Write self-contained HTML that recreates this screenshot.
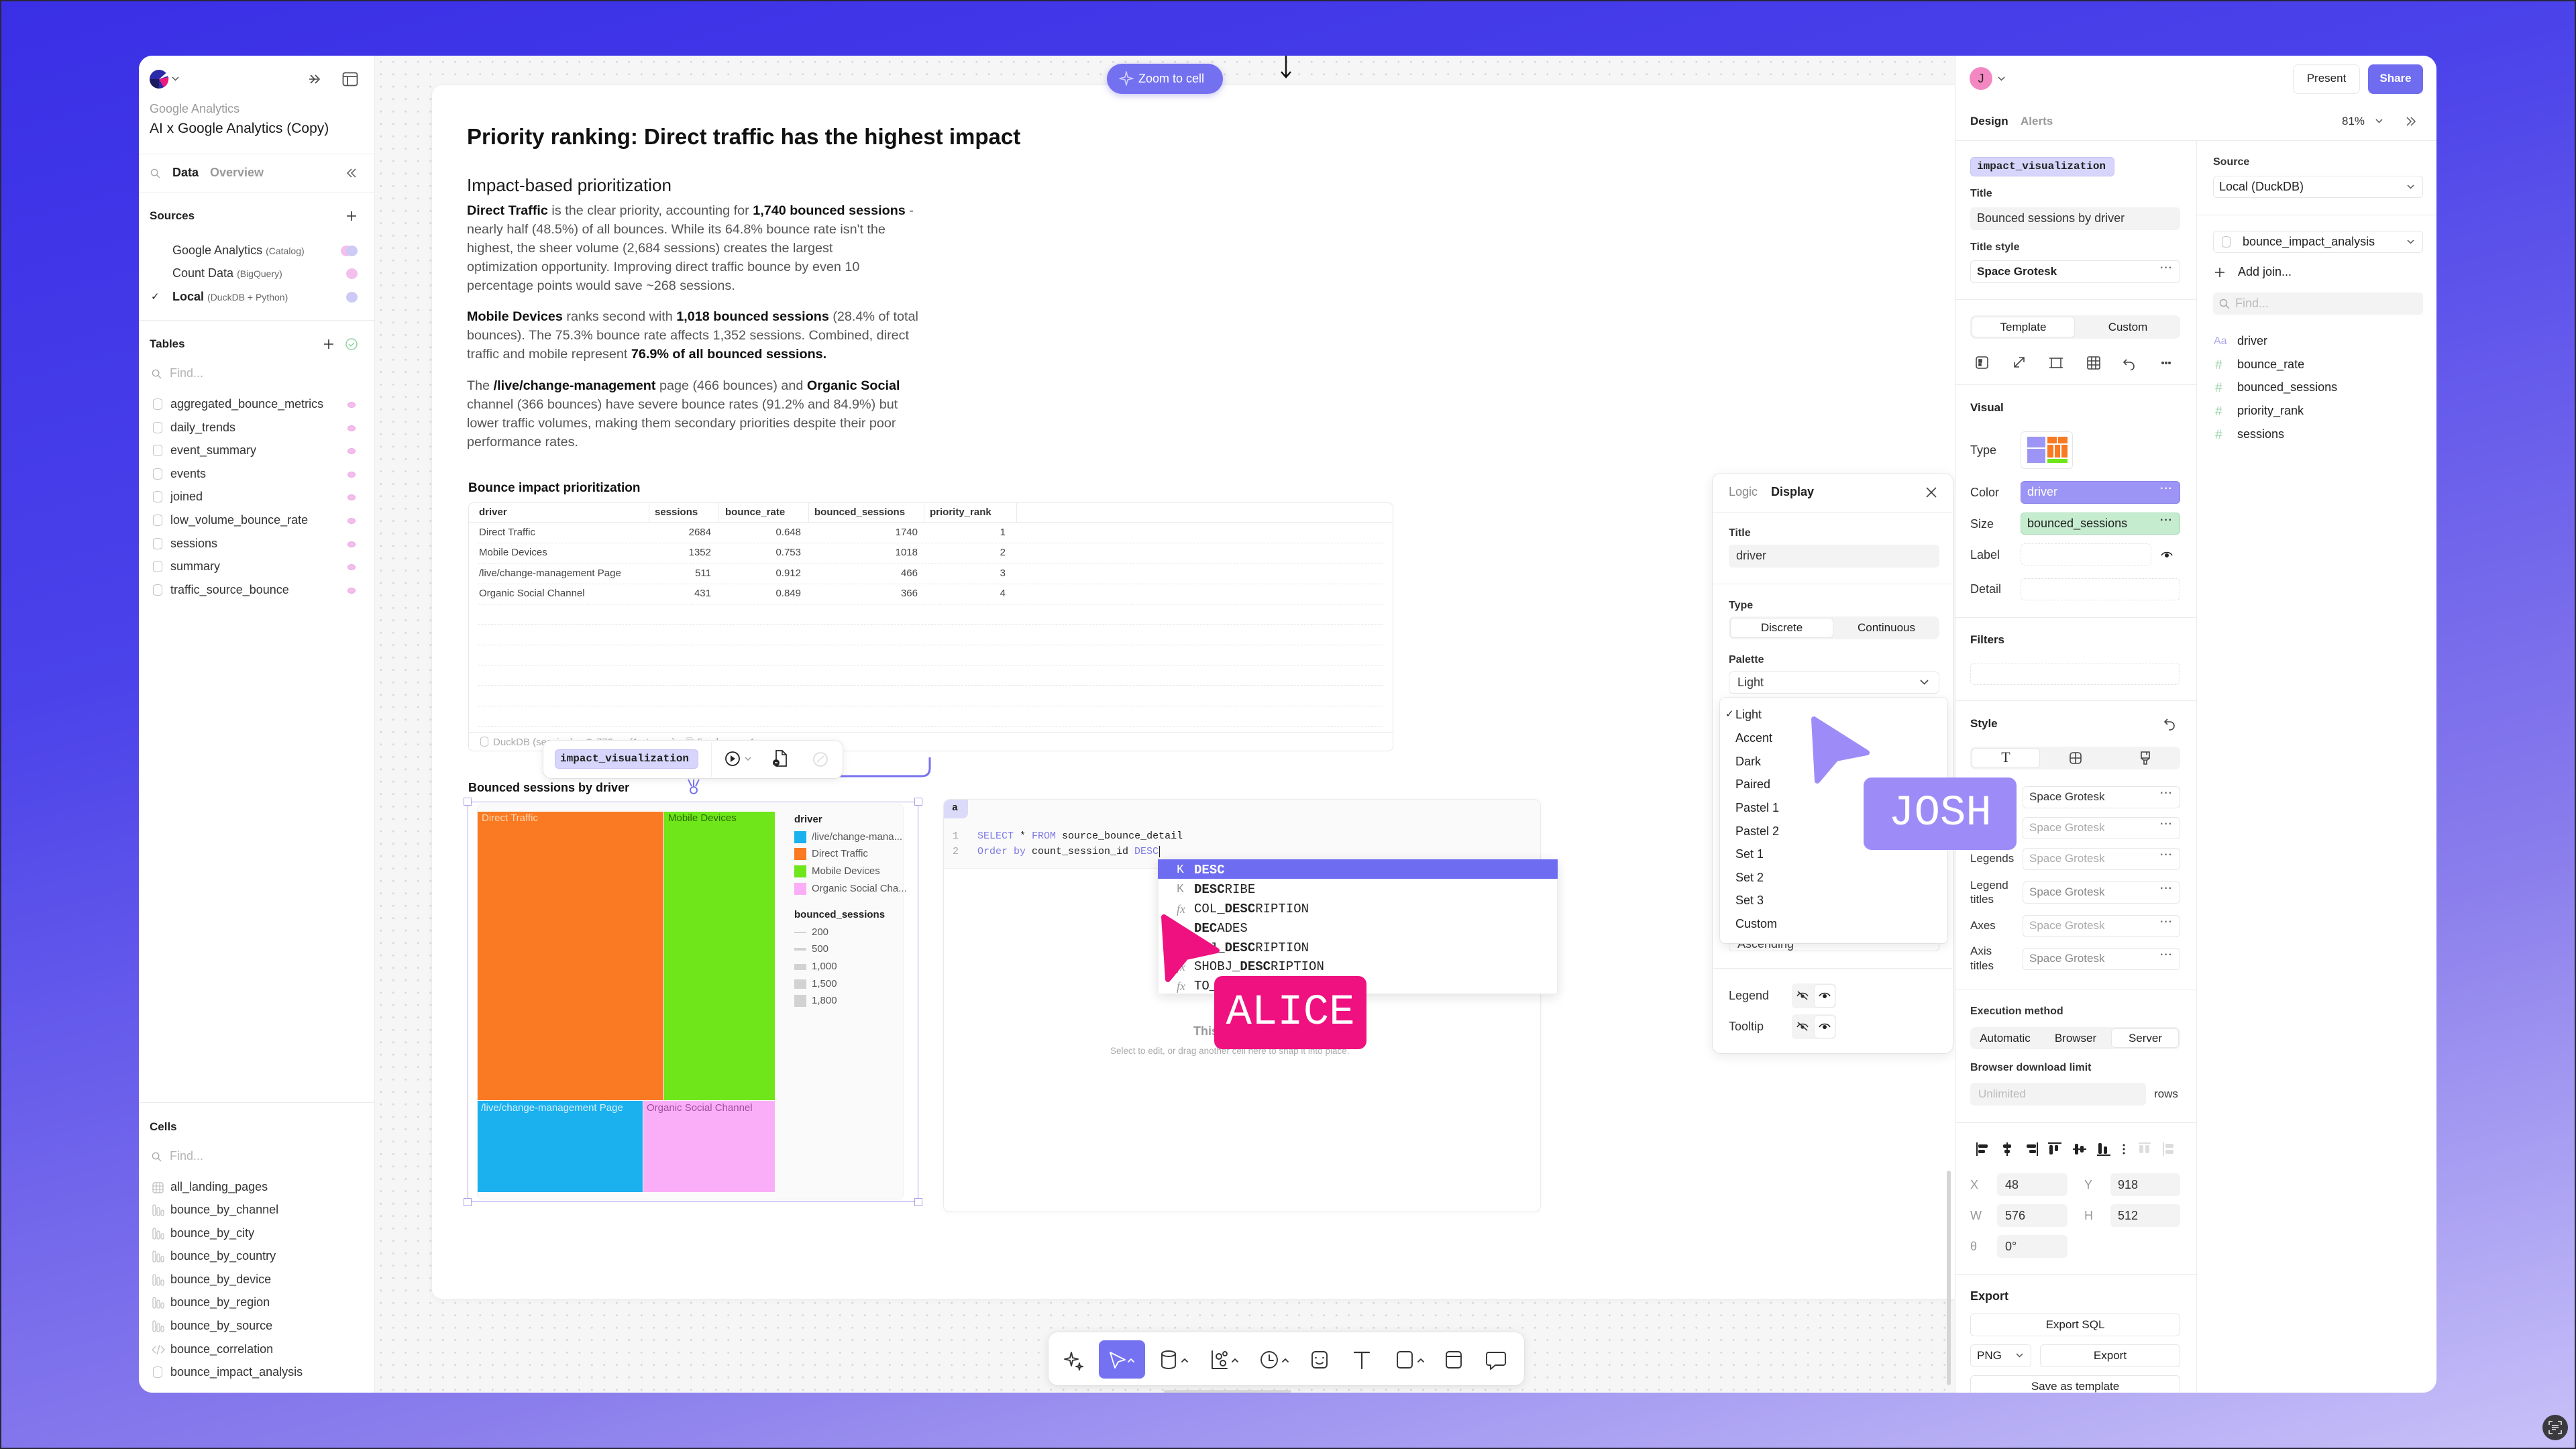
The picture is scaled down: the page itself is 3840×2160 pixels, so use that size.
<!DOCTYPE html>
<html><head><meta charset="utf-8">
<style>
*{box-sizing:border-box;margin:0;padding:0}
html,body{width:3840px;height:2160px;overflow:hidden}
body{position:relative;font-family:"Liberation Sans",sans-serif;color:#222;background:linear-gradient(165deg,#3a2fe6 0%,#4b42ea 33%,#8a7dec 72%,#c8c1f8 100%)}
.a{position:absolute}
.t{position:absolute;white-space:nowrap;line-height:1}
.m{font-family:"Liberation Mono",monospace}
.b{font-weight:700}
.hr{position:absolute;height:1px;background:#ebebeb}
.vr{position:absolute;width:1px;background:#ebebeb}
.p{font-size:19.8px;color:#555}
.p b{color:#111}
.cyl{position:absolute;width:14px;height:17px;border:1.6px solid #c2c2c2;border-radius:6px/3.5px}
.dot{position:absolute;width:12px;height:9px;border-radius:50%;background:#f3bdee;border:1px solid #e9a6e2}
.in{position:absolute;border-radius:6px}
.gi{background:#f3f3f3}
.bi{background:#fff;border:1.5px solid #e6e6e6}
.di{border:1.5px dashed #e3e3e3}
.lbl{font-size:17px;color:#333}
.sec{font-size:17px;font-weight:700;color:#222}
.dd{position:absolute;font-size:16px;font-weight:700;color:#666;letter-spacing:1px}
.ac{position:absolute;left:1726px;width:596px;height:29px}
.ac .k{position:absolute;left:28px;top:6px;font-size:18px;color:#9a9a9a;font-family:"Liberation Mono",monospace}
.ac .w{position:absolute;left:54px;top:5px;font-size:19px;color:#222;font-family:"Liberation Mono",monospace;white-space:nowrap}
.dl{position:absolute;left:712px;width:1350px;height:0;border-top:1px dashed #e4e4e4}
</style></head><body>

<!-- window -->
<div class="a" style="left:207px;top:83px;width:3425px;height:1993px;border-radius:20px;background:#f6f6f6 radial-gradient(circle,#d8d8d8 1.3px,transparent 1.7px) 0 0/18.5px 18.5px;overflow:hidden"></div>

<!-- doc card -->
<div class="a" style="left:644px;top:127px;width:2270px;height:1809px;background:#fff;border-radius:14px 0 0 14px;box-shadow:0 0 0 1px #ececec,0 2px 10px rgba(0,0,0,.04)"></div>

<!-- zoom to cell -->
<div class="a" style="left:1650px;top:95px;width:173px;height:45px;border-radius:23px;background:#7471f1;box-shadow:0 3px 10px rgba(80,70,220,.3)"></div>
<svg class="a" style="left:1668px;top:106px" width="22" height="22" viewBox="0 0 22 22"><path d="M11 1 L13 9 L21 11 L13 13 L11 21 L9 13 L1 11 L9 9 Z" fill="none" stroke="#cfcdfb" stroke-width="1.6" stroke-linejoin="round"/></svg>
<div class="t" style="left:1697px;top:108px;font-size:18px;color:#fff">Zoom to cell</div>
<svg class="a" style="left:1907px;top:83px" width="20" height="34" viewBox="0 0 20 34"><path d="M10 0V31M3 24l7 8 7-8" fill="none" stroke="#111" stroke-width="2.4"/></svg>

<!-- doc text -->
<div class="t" style="left:696px;top:187px;font-size:33px;font-weight:700;color:#111">Priority ranking: Direct traffic has the highest impact</div>
<div class="t" style="left:696px;top:263px;font-size:26px;color:#1a1a1a">Impact-based prioritization</div>
<div class="t p" style="left:696px;top:305px"><b>Direct Traffic</b> is the clear priority, accounting for <b>1,740 bounced sessions</b> -</div>
<div class="t p" style="left:696px;top:333px">nearly half (48.5%) of all bounces. While its 64.8% bounce rate isn't the</div>
<div class="t p" style="left:696px;top:361px">highest, the sheer volume (2,684 sessions) creates the largest</div>
<div class="t p" style="left:696px;top:389px">optimization opportunity. Improving direct traffic bounce by even 10</div>
<div class="t p" style="left:696px;top:417px">percentage points would save ~268 sessions.</div>
<div class="t p" style="left:696px;top:463px"><b>Mobile Devices</b> ranks second with <b>1,018 bounced sessions</b> (28.4% of total</div>
<div class="t p" style="left:696px;top:491px">bounces). The 75.3% bounce rate affects 1,352 sessions. Combined, direct</div>
<div class="t p" style="left:696px;top:519px">traffic and mobile represent <b>76.9% of all bounced sessions.</b></div>
<div class="t p" style="left:696px;top:566px">The <b>/live/change-management</b> page (466 bounces) and <b>Organic Social</b></div>
<div class="t p" style="left:696px;top:594px">channel (366 bounces) have severe bounce rates (91.2% and 84.9%) but</div>
<div class="t p" style="left:696px;top:622px">lower traffic volumes, making them secondary priorities despite their poor</div>
<div class="t p" style="left:696px;top:650px">performance rates.</div>

<!-- table -->
<div class="t" style="left:698px;top:718px;font-size:19px;font-weight:700;color:#111">Bounce impact prioritization</div>
<div class="a" style="left:698px;top:749px;width:1379px;height:371px;border:1px solid #e6e6e6;border-radius:8px;background:#fff"></div>
<div class="hr" style="left:699px;top:778px;width:1377px;background:#e8e8e8"></div>
<div class="vr" style="left:967px;top:750px;height:28px"></div>
<div class="vr" style="left:1071px;top:750px;height:28px"></div>
<div class="vr" style="left:1205px;top:750px;height:28px"></div>
<div class="vr" style="left:1377px;top:750px;height:28px"></div>
<div class="vr" style="left:1515px;top:750px;height:28px"></div>
<div class="t b" style="left:714px;top:756px;font-size:15px;color:#333">driver</div>
<div class="t b" style="left:976px;top:756px;font-size:15px;color:#333">sessions</div>
<div class="t b" style="left:1081px;top:756px;font-size:15px;color:#333">bounce_rate</div>
<div class="t b" style="left:1214px;top:756px;font-size:15px;color:#333">bounced_sessions</div>
<div class="t b" style="left:1386px;top:756px;font-size:15px;color:#333">priority_rank</div>

<div class="t" style="left:714px;top:786px;font-size:15px;color:#444">Direct Traffic</div>
<div class="t" style="left:714px;top:816px;font-size:15px;color:#444">Mobile Devices</div>
<div class="t" style="left:714px;top:847px;font-size:15px;color:#444">/live/change-management Page</div>
<div class="t" style="left:714px;top:877px;font-size:15px;color:#444">Organic Social Channel</div>

<div class="t" style="left:960px;width:100px;text-align:right;top:786px;font-size:15px;color:#444">2684</div>
<div class="t" style="left:960px;width:100px;text-align:right;top:816px;font-size:15px;color:#444">1352</div>
<div class="t" style="left:960px;width:100px;text-align:right;top:847px;font-size:15px;color:#444">511</div>
<div class="t" style="left:960px;width:100px;text-align:right;top:877px;font-size:15px;color:#444">431</div>
<div class="t" style="left:1094px;width:100px;text-align:right;top:786px;font-size:15px;color:#444">0.648</div>
<div class="t" style="left:1094px;width:100px;text-align:right;top:816px;font-size:15px;color:#444">0.753</div>
<div class="t" style="left:1094px;width:100px;text-align:right;top:847px;font-size:15px;color:#444">0.912</div>
<div class="t" style="left:1094px;width:100px;text-align:right;top:877px;font-size:15px;color:#444">0.849</div>
<div class="t" style="left:1268px;width:100px;text-align:right;top:786px;font-size:15px;color:#444">1740</div>
<div class="t" style="left:1268px;width:100px;text-align:right;top:816px;font-size:15px;color:#444">1018</div>
<div class="t" style="left:1268px;width:100px;text-align:right;top:847px;font-size:15px;color:#444">466</div>
<div class="t" style="left:1268px;width:100px;text-align:right;top:877px;font-size:15px;color:#444">366</div>
<div class="t" style="left:1399px;width:100px;text-align:right;top:786px;font-size:15px;color:#444">1</div>
<div class="t" style="left:1399px;width:100px;text-align:right;top:816px;font-size:15px;color:#444">2</div>
<div class="t" style="left:1399px;width:100px;text-align:right;top:847px;font-size:15px;color:#444">3</div>
<div class="t" style="left:1399px;width:100px;text-align:right;top:877px;font-size:15px;color:#444">4</div>

<div class="dl" style="top:809px"></div><div class="dl" style="top:839px"></div><div class="dl" style="top:870px"></div>
<div class="dl" style="top:900px"></div><div class="dl" style="top:930px"></div><div class="dl" style="top:961px"></div>
<div class="dl" style="top:991px"></div><div class="dl" style="top:1021px"></div><div class="dl" style="top:1052px"></div>
<div class="dl" style="top:1082px"></div>
<div class="hr" style="left:699px;top:1091px;width:1377px;background:#e8e8e8"></div>
<div class="cyl" style="left:716px;top:1098px;width:12px;height:15px"></div>
<div class="t" style="left:735px;top:1099px;font-size:15px;color:#aaa">DuckDB (session)&nbsp;&nbsp;&nbsp;&nbsp;◷ 770ms (1 stream)&nbsp;&nbsp;&nbsp;&nbsp;⎘ 5 columns, 4 rows</div>

<!-- connector -->
<svg class="a" style="left:1240px;top:1120px" width="160" height="50" viewBox="0 0 160 50"><path d="M9 37 H134 Q146 37 146 25 V9" fill="none" stroke="#7772ee" stroke-width="3"/></svg>

<!-- floating toolbar -->
<div class="a" style="left:810px;top:1104px;width:446px;height:56px;background:#fff;border-radius:12px;box-shadow:0 2px 12px rgba(0,0,0,.1),0 0 0 1px #efefef"></div>
<div class="a" style="left:827px;top:1117px;width:214px;height:29px;background:#d7d5fb;border:1px solid #c6c2f4;border-radius:6px"></div>
<div class="t m b" style="left:835px;top:1123px;font-size:16px;color:#222">impact_visualization</div>
<div class="vr" style="left:1060px;top:1106px;height:52px;background:#eee"></div>
<svg class="a" style="left:1080px;top:1119px" width="50" height="24" viewBox="0 0 50 24"><circle cx="12" cy="12" r="10" fill="none" stroke="#222" stroke-width="1.8"/><path d="M9 7 L16 12 L9 17Z" fill="#222"/><path d="M31 10l4 4 4-4" fill="none" stroke="#999" stroke-width="1.5"/></svg>
<svg class="a" style="left:1150px;top:1117px" width="26" height="28" viewBox="0 0 26 28"><path d="M7 2h9l6 6v17H7z" fill="none" stroke="#222" stroke-width="1.7"/><path d="M16 2v6h6" fill="none" stroke="#222" stroke-width="1.5"/><circle cx="7" cy="20" r="5" fill="#222"/><path d="M5 20h4" stroke="#fff" stroke-width="1.5"/></svg>
<svg class="a" style="left:1210px;top:1119px" width="26" height="26" viewBox="0 0 26 26"><circle cx="13" cy="13" r="10" fill="none" stroke="#ddd" stroke-width="1.8"/><path d="M8 17l10-9" stroke="#ddd" stroke-width="1.6"/></svg>

<!-- chart -->
<div class="t b" style="left:698px;top:1165px;font-size:18px;color:#111">Bounced sessions by driver</div>
<svg class="a" style="left:1022px;top:1160px" width="24" height="26" viewBox="0 0 24 26"><path d="M4 2 L9 12 M20 2 L15 12 M12 2 V12" stroke="#7772ee" stroke-width="2" fill="none"/><circle cx="12" cy="18" r="5" fill="none" stroke="#7772ee" stroke-width="2"/></svg>
<div class="a" style="left:711px;top:1198px;width:636px;height:590px;background:#fafafa;border-radius:8px;border:1px solid #f0f0f0"></div>
<div class="a" style="left:697px;top:1195px;width:672px;height:597px;border:1.5px solid #a9a4ec"></div>
<div class="a" style="left:691px;top:1189px;width:12px;height:12px;background:#fff;border:1.5px solid #a9a4ec"></div>
<div class="a" style="left:1363px;top:1189px;width:12px;height:12px;background:#fff;border:1.5px solid #a9a4ec"></div>
<div class="a" style="left:691px;top:1786px;width:12px;height:12px;background:#fff;border:1.5px solid #a9a4ec"></div>
<div class="a" style="left:1363px;top:1786px;width:12px;height:12px;background:#fff;border:1.5px solid #a9a4ec"></div>
<div class="a" style="left:712px;top:1210px;width:277px;height:430px;background:#f97a22"></div>
<div class="a" style="left:990px;top:1210px;width:165px;height:430px;background:#6ee619"></div>
<div class="a" style="left:712px;top:1641px;width:246px;height:136px;background:#1bb1ee"></div>
<div class="a" style="left:959px;top:1641px;width:196px;height:136px;background:#fbaef8"></div>
<div class="t" style="left:718px;top:1212px;font-size:15px;color:#ffd7b5">Direct Traffic</div>
<div class="t" style="left:996px;top:1212px;font-size:15px;color:#2b6a00">Mobile Devices</div>
<div class="t" style="left:717px;top:1644px;font-size:15px;color:#d2f0ff">/live/change-management Page</div>
<div class="t" style="left:964px;top:1644px;font-size:15px;color:#a04c9c">Organic Social Channel</div>
<div class="t b" style="left:1184px;top:1214px;font-size:15px;color:#222">driver</div>
<div class="a" style="left:1184px;top:1239px;width:18px;height:18px;background:#1bb1ee"></div>
<div class="a" style="left:1184px;top:1264px;width:18px;height:18px;background:#f97a22"></div>
<div class="a" style="left:1184px;top:1290px;width:18px;height:18px;background:#6ee619"></div>
<div class="a" style="left:1184px;top:1316px;width:18px;height:18px;background:#fbaef8"></div>
<div class="t" style="left:1210px;top:1240px;font-size:15px;color:#555">/live/change-mana...</div>
<div class="t" style="left:1210px;top:1265px;font-size:15px;color:#555">Direct Traffic</div>
<div class="t" style="left:1210px;top:1291px;font-size:15px;color:#555">Mobile Devices</div>
<div class="t" style="left:1210px;top:1317px;font-size:15px;color:#555">Organic Social Cha...</div>
<div class="t b" style="left:1184px;top:1356px;font-size:15px;color:#222">bounced_sessions</div>
<div class="a" style="left:1184px;top:1389px;width:18px;height:2px;background:#d2d2d2"></div>
<div class="a" style="left:1184px;top:1413px;width:18px;height:4px;background:#d2d2d2"></div>
<div class="a" style="left:1184px;top:1437px;width:18px;height:9px;background:#d2d2d2"></div>
<div class="a" style="left:1184px;top:1460px;width:18px;height:14px;background:#d2d2d2"></div>
<div class="a" style="left:1184px;top:1483px;width:18px;height:18px;background:#d2d2d2"></div>
<div class="t" style="left:1210px;top:1382px;font-size:15px;color:#555">200</div>
<div class="t" style="left:1210px;top:1407px;font-size:15px;color:#555">500</div>
<div class="t" style="left:1210px;top:1433px;font-size:15px;color:#555">1,000</div>
<div class="t" style="left:1210px;top:1459px;font-size:15px;color:#555">1,500</div>
<div class="t" style="left:1210px;top:1484px;font-size:15px;color:#555">1,800</div>

<!-- SQL card -->
<div class="a" style="left:1406px;top:1191px;width:891px;height:616px;background:#fff;border:1px solid #ebebeb;border-radius:10px;box-shadow:0 1px 6px rgba(0,0,0,.04);overflow:hidden">
  <div class="a" style="left:0;top:0;width:891px;height:103px;background:#fafafa;border-bottom:1px solid #efefef"></div>
  <div class="a" style="left:0;top:0;width:36px;height:28px;background:#dcdaf9;border-radius:0 0 8px 0"></div>
</div>
<div class="t m b" style="left:1419px;top:1197px;font-size:15px;color:#222">a</div>
<div class="t m" style="left:1420px;top:1239px;font-size:15px;color:#aaa">1</div>
<div class="t m" style="left:1420px;top:1262px;font-size:15px;color:#aaa">2</div>
<div class="t m" style="left:1457px;top:1239px;font-size:15px;color:#222"><span style="color:#7c79e4">SELECT</span> * <span style="color:#7c79e4">FROM</span> source_bounce_detail</div>
<div class="t m" style="left:1457px;top:1262px;font-size:15px;color:#222"><span style="color:#7c79e4">Order by</span> count_session_id <span style="color:#7c79e4">DESC</span><span style="border-left:1.5px solid #222;margin-left:1px"></span></div>
<div class="t" style="left:1779px;top:1528px;font-size:18px;color:#999;font-weight:700">This cell is empty</div>
<div class="t" style="left:1655px;top:1560px;font-size:13.5px;color:#aaa">Select to edit, or drag another cell here to snap it into place.</div>

<!-- autocomplete -->
<div class="a" style="left:1726px;top:1281px;width:596px;height:201px;background:#fff;box-shadow:0 4px 16px rgba(0,0,0,.12);border:1px solid #eee"></div>
<div class="ac" style="top:1281px;background:#6e6cf0"><span class="k" style="color:#fff">K</span><span class="w" style="color:#fff"><b>DESC</b></span></div>
<div class="ac" style="top:1310px"><span class="k">K</span><span class="w"><b>DESC</b>RIBE</span></div>
<div class="ac" style="top:1339px"><span class="k" style="font-family:'Liberation Serif',serif;font-style:italic">fx</span><span class="w">COL_<b>DESC</b>RIPTION</span></div>
<div class="ac" style="top:1368px"><span class="k"></span><span class="w"><b>DEC</b>ADES</span></div>
<div class="ac" style="top:1397px"><span class="k" style="font-family:'Liberation Serif',serif;font-style:italic">fx</span><span class="w">OBJ_<b>DESC</b>RIPTION</span></div>
<div class="ac" style="top:1425px"><span class="k" style="font-family:'Liberation Serif',serif;font-style:italic">fx</span><span class="w">SHOBJ_<b>DESC</b>RIPTION</span></div>
<div class="ac" style="top:1454px"><span class="k" style="font-family:'Liberation Serif',serif;font-style:italic">fx</span><span class="w">TO_CHAR</span></div>

<!-- canvas scrollbar -->
<div class="a" style="left:2902px;top:1745px;width:6px;height:320px;border-radius:3px;background:#d5d5d5"></div>

<!-- Display panel -->
<div class="a" style="left:2553px;top:706px;width:358px;height:864px;background:#fff;border-radius:12px;box-shadow:0 4px 18px rgba(0,0,0,.09),0 0 0 1px #eee"></div>
<div class="t" style="left:2577px;top:724px;font-size:18px;color:#8a8a8a">Logic</div>
<div class="t b" style="left:2640px;top:724px;font-size:18px;color:#222">Display</div>
<svg class="a" style="left:2870px;top:725px" width="18" height="18" viewBox="0 0 18 18"><path d="M2 2L16 16M16 2L2 16" stroke="#444" stroke-width="1.6"/></svg>
<div class="hr" style="left:2554px;top:763px;width:356px"></div>
<div class="t lbl b" style="left:2577px;top:787px;font-size:16px">Title</div>
<div class="in gi" style="left:2577px;top:812px;width:314px;height:34px"></div>
<div class="t" style="left:2588px;top:819px;font-size:18px;color:#333">driver</div>
<div class="hr" style="left:2554px;top:870px;width:356px"></div>
<div class="t lbl b" style="left:2577px;top:895px;font-size:16px">Type</div>
<div class="in gi" style="left:2577px;top:919px;width:314px;height:34px;border-radius:8px"></div>
<div class="in" style="left:2579px;top:921px;width:154px;height:30px;background:#fff;border:1px solid #e6e6e6"></div>
<div class="t" style="left:2579px;width:154px;text-align:center;top:927px;font-size:17px;color:#222">Discrete</div>
<div class="t" style="left:2735px;width:154px;text-align:center;top:927px;font-size:17px;color:#222">Continuous</div>
<div class="t lbl b" style="left:2577px;top:976px;font-size:16px">Palette</div>
<div class="in bi" style="left:2577px;top:1001px;width:314px;height:33px"></div>
<div class="t" style="left:2590px;top:1008px;font-size:18px;color:#333">Light</div>
<svg class="a" style="left:2862px;top:1013px" width="13" height="8" viewBox="0 0 13 8"><path d="M1 1l5.5 5.5L12 1" fill="none" stroke="#444" stroke-width="1.6"/></svg>
<div class="in bi" style="left:2577px;top:1384px;width:314px;height:34px"></div>
<div class="t" style="left:2590px;top:1398px;font-size:18px;color:#444">Ascending</div>
<div class="a" style="left:2564px;top:1040px;width:339px;height:366px;background:#fff;border-radius:8px;box-shadow:0 4px 16px rgba(0,0,0,.1),0 0 0 1px #f0f0f0"></div>
<div class="t" style="left:2572px;top:1057px;font-size:15px;color:#222">✓</div>
<div class="t" style="left:2587px;top:1056px;font-size:18px;color:#222">Light</div>
<div class="t" style="left:2587px;top:1091px;font-size:18px;color:#222">Accent</div>
<div class="t" style="left:2587px;top:1126px;font-size:18px;color:#222">Dark</div>
<div class="t" style="left:2587px;top:1160px;font-size:18px;color:#222">Paired</div>
<div class="t" style="left:2587px;top:1195px;font-size:18px;color:#222">Pastel 1</div>
<div class="t" style="left:2587px;top:1230px;font-size:18px;color:#222">Pastel 2</div>
<div class="t" style="left:2587px;top:1264px;font-size:18px;color:#222">Set 1</div>
<div class="t" style="left:2587px;top:1299px;font-size:18px;color:#222">Set 2</div>
<div class="t" style="left:2587px;top:1333px;font-size:18px;color:#222">Set 3</div>
<div class="t" style="left:2587px;top:1368px;font-size:18px;color:#222">Custom</div>
<div class="hr" style="left:2554px;top:1443px;width:356px"></div>
<div class="t" style="left:2577px;top:1475px;font-size:18px;color:#333">Legend</div>
<div class="t" style="left:2577px;top:1521px;font-size:18px;color:#333">Tooltip</div>
<div class="in gi" style="left:2671px;top:1466px;width:66px;height:37px"></div>
<div class="in" style="left:2704px;top:1467px;width:32px;height:35px;background:#fff;border:1px solid #eaeaea"></div>
<div class="in gi" style="left:2671px;top:1512px;width:66px;height:37px"></div>
<div class="in" style="left:2704px;top:1513px;width:32px;height:35px;background:#fff;border:1px solid #eaeaea"></div>
<svg class="a" style="left:2678px;top:1477px" width="18" height="14" viewBox="0 0 18 14"><path d="M1 8C4 2 14 2 17 8" fill="none" stroke="#333" stroke-width="1.5"/><circle cx="9" cy="8" r="2.6" fill="#333"/><path d="M2 1L16 13" stroke="#333" stroke-width="1.5"/></svg>
<svg class="a" style="left:2711px;top:1477px" width="18" height="14" viewBox="0 0 18 14"><path d="M1 8C4 2 14 2 17 8" fill="none" stroke="#222" stroke-width="1.6"/><circle cx="9" cy="8" r="3" fill="#222"/></svg>
<svg class="a" style="left:2678px;top:1523px" width="18" height="14" viewBox="0 0 18 14"><path d="M1 8C4 2 14 2 17 8" fill="none" stroke="#333" stroke-width="1.5"/><circle cx="9" cy="8" r="2.6" fill="#333"/><path d="M2 1L16 13" stroke="#333" stroke-width="1.5"/></svg>
<svg class="a" style="left:2711px;top:1523px" width="18" height="14" viewBox="0 0 18 14"><path d="M1 8C4 2 14 2 17 8" fill="none" stroke="#222" stroke-width="1.6"/><circle cx="9" cy="8" r="3" fill="#222"/></svg>

<!-- right panel -->
<div class="a" style="left:2914px;top:83px;width:718px;height:1993px;background:#fff;border-radius:0 20px 20px 0;border-left:1px solid #e8e8e8"></div>
<div class="a" style="left:2936px;top:100px;width:34px;height:34px;border-radius:50%;background:#f287c2"></div>
<div class="t" style="left:2936px;width:34px;text-align:center;top:108px;font-size:18px;color:#222">J</div>
<svg class="a" style="left:2978px;top:114px" width="11" height="7" viewBox="0 0 11 7"><path d="M1 1l4.5 4.5L10 1" fill="none" stroke="#555" stroke-width="1.5"/></svg>
<div class="in" style="left:3418px;top:96px;width:100px;height:44px;border:1.5px solid #e8e8e8;border-radius:8px"></div>
<div class="t" style="left:3418px;width:100px;text-align:center;top:108px;font-size:17px;color:#222">Present</div>
<div class="in" style="left:3530px;top:96px;width:82px;height:44px;background:#6f6cf0;border-radius:8px"></div>
<div class="t b" style="left:3530px;width:82px;text-align:center;top:108px;font-size:17px;color:#fff">Share</div>
<div class="t b" style="left:2937px;top:172px;font-size:17px;color:#222">Design</div>
<div class="t b" style="left:3012px;top:172px;font-size:17px;color:#999">Alerts</div>
<div class="t" style="left:3491px;top:172px;font-size:17px;color:#333">81%</div>
<svg class="a" style="left:3541px;top:177px" width="11" height="7" viewBox="0 0 11 7"><path d="M1 1l4.5 4.5L10 1" fill="none" stroke="#555" stroke-width="1.5"/></svg>
<svg class="a" style="left:3586px;top:173px" width="16" height="16" viewBox="0 0 16 16"><path d="M2 2l6 6-6 6M8 2l6 6-6 6" fill="none" stroke="#555" stroke-width="1.5"/></svg>
<div class="hr" style="left:2915px;top:209px;width:717px"></div>
<div class="vr" style="left:3274px;top:209px;height:1867px;background:#ececec"></div>

<!-- design column -->
<div class="a" style="left:2937px;top:234px;width:215px;height:29px;background:#d7d5fb;border:1px solid #c6c2f4;border-radius:6px"></div>
<div class="t m b" style="left:2947px;top:240px;font-size:16px;color:#222">impact_visualization</div>
<div class="t lbl b" style="left:2937px;top:281px;font-size:16px">Title</div>
<div class="in gi" style="left:2937px;top:309px;width:313px;height:34px"></div>
<div class="t" style="left:2947px;top:316px;font-size:18px;color:#333">Bounced sessions by driver</div>
<div class="t lbl b" style="left:2937px;top:361px;font-size:16px">Title style</div>
<div class="in bi" style="left:2937px;top:388px;width:313px;height:34px"></div>
<div class="t b" style="left:2947px;top:396px;font-size:17px;color:#222">Space Grotesk</div>
<div class="dd" style="left:3220px;top:391px">···</div>
<div class="hr" style="left:2915px;top:446px;width:359px"></div>
<div class="in gi" style="left:2937px;top:470px;width:313px;height:35px;border-radius:8px"></div>
<div class="in" style="left:2939px;top:472px;width:154px;height:31px;background:#fff;border:1px solid #e6e6e6"></div>
<div class="t" style="left:2939px;width:154px;text-align:center;top:479px;font-size:17px;color:#222">Template</div>
<div class="t" style="left:3095px;width:154px;text-align:center;top:479px;font-size:17px;color:#222">Custom</div>
<svg class="a" style="left:2944px;top:530px" width="300" height="22" viewBox="0 0 300 22" fill="none" stroke="#444" stroke-width="1.6">
<rect x="2" y="2" width="17" height="17" rx="3"/><rect x="6" y="6" width="4" height="4" fill="#444"/><rect x="6" y="12" width="3" height="3" fill="#444"/>
<path d="M59 17L73 3M66 3h7v7M59 10v7h7"/>
<rect x="114" y="4" width="14" height="14"/><path d="M111 4h3M111 18h3M128 4h3M128 18h3"/>
<rect x="168" y="2" width="18" height="18" rx="2"/><path d="M168 8h18M168 14h18M174 2v18M180 2v18"/>
<path d="M226 6l-4 4 4 4M222 10h9a6 6 0 0 1 0 12"/>
<circle cx="280" cy="11" r="1.2" fill="#444"/><circle cx="285" cy="11" r="1.2" fill="#444"/><circle cx="290" cy="11" r="1.2" fill="#444"/>
</svg>
<div class="hr" style="left:2915px;top:573px;width:359px"></div>
<div class="t sec" style="left:2937px;top:599px">Visual</div>
<div class="t lbl" style="left:2937px;top:662px;font-size:18px">Type</div>
<div class="in bi" style="left:3012px;top:643px;width:78px;height:56px"></div>
<div class="a" style="left:3022px;top:651px;width:27px;height:16px;background:#9d95f5"></div>
<div class="a" style="left:3022px;top:669px;width:27px;height:21px;background:#9d95f5"></div>
<div class="a" style="left:3052px;top:651px;width:14px;height:10px;background:#f97a22"></div>
<div class="a" style="left:3068px;top:651px;width:14px;height:10px;background:#f97a22"></div>
<div class="a" style="left:3052px;top:663px;width:9px;height:19px;background:#f97a22"></div>
<div class="a" style="left:3063px;top:663px;width:8px;height:19px;background:#f97a22"></div>
<div class="a" style="left:3073px;top:663px;width:9px;height:19px;background:#f97a22"></div>
<div class="a" style="left:3052px;top:684px;width:30px;height:6px;background:#6ee619"></div>
<div class="t lbl" style="left:2937px;top:725px;font-size:18px">Color</div>
<div class="in" style="left:3012px;top:717px;width:238px;height:34px;background:#9d95f5;border:1px solid #8c84ee"></div>
<div class="t" style="left:3022px;top:724px;font-size:18px;color:#fff">driver</div>
<div class="dd" style="left:3220px;top:720px;color:#fff">···</div>
<div class="t lbl" style="left:2937px;top:772px;font-size:18px">Size</div>
<div class="in" style="left:3012px;top:764px;width:238px;height:33px;background:#c6ecd0;border:1px solid #a9dcb5"></div>
<div class="t" style="left:3022px;top:771px;font-size:18px;color:#222">bounced_sessions</div>
<div class="dd" style="left:3220px;top:767px;color:#333">···</div>
<div class="t lbl" style="left:2937px;top:818px;font-size:18px">Label</div>
<div class="in di" style="left:3012px;top:810px;width:195px;height:33px"></div>
<svg class="a" style="left:3221px;top:820px" width="18" height="14" viewBox="0 0 18 14"><path d="M1 8C4 2 14 2 17 8" fill="none" stroke="#222" stroke-width="1.6"/><circle cx="9" cy="8" r="3" fill="#222"/></svg>
<div class="t lbl" style="left:2937px;top:869px;font-size:18px">Detail</div>
<div class="in di" style="left:3012px;top:862px;width:238px;height:33px"></div>
<div class="hr" style="left:2915px;top:920px;width:359px"></div>
<div class="t sec" style="left:2937px;top:945px">Filters</div>
<div class="in di" style="left:2937px;top:988px;width:313px;height:33px"></div>
<div class="hr" style="left:2915px;top:1044px;width:359px"></div>
<div class="t sec" style="left:2937px;top:1070px">Style</div>
<svg class="a" style="left:3224px;top:1069px" width="20" height="20" viewBox="0 0 20 20"><path d="M7 3L3 7l4 4M3 7h8a6 6 0 0 1 0 12h-2" fill="none" stroke="#444" stroke-width="1.6"/></svg>
<div class="in gi" style="left:2937px;top:1113px;width:313px;height:34px;border-radius:8px"></div>
<div class="in" style="left:2939px;top:1115px;width:102px;height:30px;background:#fff;border:1px solid #e6e6e6"></div>
<div class="t" style="left:2939px;width:102px;text-align:center;top:1118px;font-size:22px;color:#333;font-family:'Liberation Serif',serif">T</div>
<svg class="a" style="left:3085px;top:1121px" width="18" height="18" viewBox="0 0 18 18"><rect x="1" y="1" width="16" height="16" rx="4" fill="none" stroke="#444" stroke-width="1.6"/><path d="M9 1v16M1 9h16" stroke="#444" stroke-width="1.6"/></svg>
<svg class="a" style="left:3190px;top:1119px" width="16" height="22" viewBox="0 0 16 22"><path d="M2 2h12v9H2zM2 11l3 3h6l3-3M6 14v6h4v-6M10 2v4" fill="none" stroke="#444" stroke-width="1.6"/></svg>
<div class="in bi" style="left:3015px;top:1172px;width:235px;height:33px"></div>
<div class="in bi" style="left:3015px;top:1218px;width:235px;height:33px"></div>
<div class="in bi" style="left:3015px;top:1264px;width:235px;height:33px"></div>
<div class="in bi" style="left:3015px;top:1314px;width:235px;height:33px"></div>
<div class="in bi" style="left:3015px;top:1364px;width:235px;height:33px"></div>
<div class="in bi" style="left:3015px;top:1413px;width:235px;height:33px"></div>
<div class="t" style="left:3025px;top:1179px;font-size:17px;color:#333">Space Grotesk</div>
<div class="t" style="left:3025px;top:1225px;font-size:17px;color:#aaa">Space Grotesk</div>
<div class="t" style="left:3025px;top:1271px;font-size:17px;color:#aaa">Space Grotesk</div>
<div class="t" style="left:3025px;top:1321px;font-size:17px;color:#888">Space Grotesk</div>
<div class="t" style="left:3025px;top:1371px;font-size:17px;color:#aaa">Space Grotesk</div>
<div class="t" style="left:3025px;top:1420px;font-size:17px;color:#888">Space Grotesk</div>
<div class="dd" style="left:3220px;top:1174px">···</div>
<div class="dd" style="left:3220px;top:1220px">···</div>
<div class="dd" style="left:3220px;top:1266px">···</div>
<div class="dd" style="left:3220px;top:1316px">···</div>
<div class="dd" style="left:3220px;top:1366px">···</div>
<div class="dd" style="left:3220px;top:1415px">···</div>
<div class="t lbl" style="left:2937px;top:1271px;font-size:17px">Legends</div>
<div class="t lbl" style="left:2937px;top:1311px;font-size:17px">Legend</div>
<div class="t lbl" style="left:2937px;top:1332px;font-size:17px">titles</div>
<div class="t lbl" style="left:2937px;top:1371px;font-size:17px">Axes</div>
<div class="t lbl" style="left:2937px;top:1409px;font-size:17px">Axis</div>
<div class="t lbl" style="left:2937px;top:1431px;font-size:17px">titles</div>
<div class="hr" style="left:2915px;top:1474px;width:359px"></div>
<div class="t lbl b" style="left:2937px;top:1500px;font-size:16px">Execution method</div>
<div class="in gi" style="left:2937px;top:1531px;width:313px;height:33px;border-radius:8px"></div>
<div class="in" style="left:3147px;top:1533px;width:101px;height:29px;background:#fff;border:1px solid #e6e6e6"></div>
<div class="t" style="left:2939px;width:100px;text-align:center;top:1539px;font-size:17px;color:#222">Automatic</div>
<div class="t" style="left:3044px;width:100px;text-align:center;top:1539px;font-size:17px;color:#222">Browser</div>
<div class="t" style="left:3148px;width:100px;text-align:center;top:1539px;font-size:17px;color:#222">Server</div>
<div class="t lbl b" style="left:2937px;top:1584px;font-size:16px">Browser download limit</div>
<div class="in gi" style="left:2937px;top:1614px;width:262px;height:34px"></div>
<div class="t" style="left:2949px;top:1622px;font-size:17px;color:#bbb">Unlimited</div>
<div class="t" style="left:3211px;top:1622px;font-size:17px;color:#333">rows</div>
<div class="hr" style="left:2915px;top:1673px;width:359px"></div>
<svg class="a" style="left:2944px;top:1702px" width="300" height="22" viewBox="0 0 300 22">
<g fill="#222"><rect x="2" y="1" width="2" height="20"/><rect x="5" y="4" width="14" height="5" rx="2"/><rect x="5" y="12" width="10" height="5" rx="2"/>
<rect x="42" y="4" width="12" height="5" rx="2"/><rect x="44" y="12" width="8" height="5" rx="2"/><rect x="47" y="1" width="2" height="20"/>
<rect x="92" y="1" width="2" height="20"/><rect x="77" y="4" width="14" height="5" rx="2"/><rect x="81" y="12" width="10" height="5" rx="2"/>
<rect x="109" y="1" width="20" height="2"/><rect x="111" y="5" width="5" height="14" rx="2"/><rect x="119" y="5" width="5" height="9" rx="2"/>
<rect x="146" y="10" width="20" height="2"/><rect x="149" y="3" width="5" height="16" rx="2"/><rect x="157" y="6" width="5" height="10" rx="2"/>
<rect x="182" y="19" width="20" height="2"/><rect x="184" y="2" width="5" height="16" rx="2"/><rect x="192" y="7" width="5" height="11" rx="2"/>
<circle cx="222" cy="5" r="1.5"/><circle cx="222" cy="11" r="1.5"/><circle cx="222" cy="17" r="1.5"/></g>
<g fill="#ddd"><rect x="244" y="1" width="18" height="2"/><rect x="245" y="5" width="6" height="12" rx="2"/><rect x="254" y="5" width="6" height="12" rx="2"/><rect x="280" y="1" width="2" height="20"/><rect x="284" y="3" width="12" height="6" rx="2"/><rect x="284" y="12" width="12" height="6" rx="2"/></g>
</svg>
<div class="t" style="left:2937px;top:1757px;font-size:18px;color:#999">X</div>
<div class="in gi" style="left:2977px;top:1749px;width:105px;height:34px"></div>
<div class="t" style="left:2989px;top:1757px;font-size:18px;color:#333">48</div>
<div class="t" style="left:3107px;top:1757px;font-size:18px;color:#999">Y</div>
<div class="in gi" style="left:3146px;top:1749px;width:104px;height:34px"></div>
<div class="t" style="left:3157px;top:1757px;font-size:18px;color:#333">918</div>
<div class="t" style="left:2937px;top:1803px;font-size:18px;color:#999">W</div>
<div class="in gi" style="left:2977px;top:1795px;width:105px;height:34px"></div>
<div class="t" style="left:2989px;top:1803px;font-size:18px;color:#333">576</div>
<div class="t" style="left:3107px;top:1803px;font-size:18px;color:#999">H</div>
<div class="in gi" style="left:3146px;top:1795px;width:104px;height:34px"></div>
<div class="t" style="left:3157px;top:1803px;font-size:18px;color:#333">512</div>
<div class="t" style="left:2937px;top:1849px;font-size:18px;color:#999">θ</div>
<div class="in gi" style="left:2977px;top:1841px;width:105px;height:34px"></div>
<div class="t" style="left:2989px;top:1849px;font-size:18px;color:#333">0°</div>
<div class="hr" style="left:2915px;top:1899px;width:359px"></div>
<div class="t b" style="left:2937px;top:1923px;font-size:18px;color:#222">Export</div>
<div class="in bi" style="left:2937px;top:1958px;width:313px;height:34px"></div>
<div class="t" style="left:2937px;width:313px;text-align:center;top:1966px;font-size:17px;color:#222">Export SQL</div>
<div class="in bi" style="left:2937px;top:2004px;width:91px;height:34px"></div>
<div class="t" style="left:2947px;top:2012px;font-size:17px;color:#222">PNG</div>
<svg class="a" style="left:3005px;top:2017px" width="11" height="7" viewBox="0 0 11 7"><path d="M1 1l4.5 4.5L10 1" fill="none" stroke="#555" stroke-width="1.5"/></svg>
<div class="in bi" style="left:3041px;top:2004px;width:209px;height:34px"></div>
<div class="t" style="left:3041px;width:209px;text-align:center;top:2012px;font-size:17px;color:#222">Export</div>
<div class="a" style="left:2937px;top:2050px;width:313px;height:26px;overflow:hidden"><div class="in bi" style="left:0;top:0;width:313px;height:34px"></div><div class="t" style="left:0;width:313px;text-align:center;top:8px;font-size:17px;color:#222">Save as template</div></div>

<!-- source column -->
<div class="t lbl b" style="left:3299px;top:234px;font-size:16px">Source</div>
<div class="in bi" style="left:3299px;top:262px;width:313px;height:33px"></div>
<div class="t" style="left:3308px;top:269px;font-size:18px;color:#222">Local (DuckDB)</div>
<svg class="a" style="left:3588px;top:275px" width="11" height="7" viewBox="0 0 11 7"><path d="M1 1l4.5 4.5L10 1" fill="none" stroke="#555" stroke-width="1.5"/></svg>
<div class="hr" style="left:3275px;top:320px;width:357px"></div>
<div class="in bi" style="left:3299px;top:344px;width:313px;height:33px"></div>
<div class="cyl" style="left:3312px;top:352px;width:13px;height:17px"></div>
<div class="t" style="left:3343px;top:351px;font-size:18px;color:#222">bounce_impact_analysis</div>
<svg class="a" style="left:3588px;top:357px" width="11" height="7" viewBox="0 0 11 7"><path d="M1 1l4.5 4.5L10 1" fill="none" stroke="#555" stroke-width="1.5"/></svg>
<svg class="a" style="left:3301px;top:398px" width="16" height="16" viewBox="0 0 16 16"><path d="M8 1v14M1 8h14" stroke="#333" stroke-width="1.6"/></svg>
<div class="t" style="left:3336px;top:396px;font-size:18px;color:#222">Add join...</div>
<div class="in gi" style="left:3299px;top:436px;width:313px;height:33px"></div>
<svg class="a" style="left:3308px;top:445px" width="16" height="16" viewBox="0 0 16 16"><circle cx="6.5" cy="6.5" r="5" fill="none" stroke="#aaa" stroke-width="1.5"/><path d="M10 10l5 5" stroke="#aaa" stroke-width="1.5"/></svg>
<div class="t" style="left:3332px;top:443px;font-size:18px;color:#bbb">Find...</div>
<div class="t" style="left:3300px;top:501px;font-size:16px;color:#a9a4ee">Aa</div>
<div class="t" style="left:3302px;top:535px;font-size:19px;color:#9fd3ae">#</div>
<div class="t" style="left:3302px;top:569px;font-size:19px;color:#9fd3ae">#</div>
<div class="t" style="left:3302px;top:604px;font-size:19px;color:#9fd3ae">#</div>
<div class="t" style="left:3302px;top:639px;font-size:19px;color:#9fd3ae">#</div>
<div class="t" style="left:3335px;top:499px;font-size:18px;color:#222">driver</div>
<div class="t" style="left:3335px;top:534px;font-size:18px;color:#222">bounce_rate</div>
<div class="t" style="left:3335px;top:568px;font-size:18px;color:#222">bounced_sessions</div>
<div class="t" style="left:3335px;top:603px;font-size:18px;color:#222">priority_rank</div>
<div class="t" style="left:3335px;top:638px;font-size:18px;color:#222">sessions</div>

<!-- sidebar -->
<div class="a" style="left:207px;top:83px;width:352px;height:1993px;background:#fff;border-radius:20px 0 0 20px;border-right:1px solid #ebebeb"></div>
<svg class="a" style="left:222px;top:103px" width="32" height="30" viewBox="0 0 32 30"><circle cx="15" cy="15" r="14" fill="#2b2aa8"/><path d="M15 15 L29 12 A14 14 0 0 1 22 27 Z" fill="#ec1a7d"/><path d="M15 15 L29 10 L29 3 Z" fill="#fff"/><path d="M1 15 A14 14 0 0 0 15 29 L15 15Z" fill="#1b1a5e"/></svg>
<svg class="a" style="left:256px;top:114px" width="11" height="7" viewBox="0 0 11 7"><path d="M1 1l4.5 4.5L10 1" fill="none" stroke="#555" stroke-width="1.5"/></svg>
<svg class="a" style="left:460px;top:110px" width="22" height="16" viewBox="0 0 22 16"><path d="M1 8h13M3 2l6 6-6 6M10 2l6 6-6 6" fill="none" stroke="#444" stroke-width="1.6"/></svg>
<svg class="a" style="left:510px;top:107px" width="24" height="22" viewBox="0 0 24 22"><rect x="1.5" y="1.5" width="21" height="19" rx="3" fill="none" stroke="#555" stroke-width="1.8"/><path d="M1.5 7h21M8 7v13" stroke="#555" stroke-width="1.8"/></svg>
<div class="t" style="left:223px;top:153px;font-size:18px;color:#9a9a9a">Google Analytics</div>
<div class="t" style="left:223px;top:181px;font-size:21px;color:#1b1b1b">AI x Google Analytics (Copy)</div>
<div class="hr" style="left:208px;top:229px;width:350px"></div>
<svg class="a" style="left:224px;top:251px" width="15" height="15" viewBox="0 0 16 16"><circle cx="6.5" cy="6.5" r="5" fill="none" stroke="#aaa" stroke-width="1.5"/><path d="M10 10l5 5" stroke="#aaa" stroke-width="1.5"/></svg>
<div class="t b" style="left:257px;top:248px;font-size:18px;color:#222">Data</div>
<div class="t b" style="left:313px;top:248px;font-size:18px;color:#999">Overview</div>
<svg class="a" style="left:516px;top:250px" width="16" height="16" viewBox="0 0 16 16"><path d="M8 2L2 8l6 6M14 2L8 8l6 6" fill="none" stroke="#555" stroke-width="1.5"/></svg>
<div class="hr" style="left:208px;top:287px;width:350px"></div>
<div class="t b" style="left:223px;top:313px;font-size:17px;color:#222">Sources</div>
<svg class="a" style="left:516px;top:314px" width="16" height="16" viewBox="0 0 16 16"><path d="M8 1v14M1 8h14" stroke="#333" stroke-width="1.6"/></svg>
<div class="t" style="left:257px;top:364px;font-size:18px;color:#333">Google Analytics <span style="font-size:14px;color:#666">(Catalog)</span></div>
<div class="t" style="left:257px;top:398px;font-size:18px;color:#333">Count Data <span style="font-size:14px;color:#666">(BigQuery)</span></div>
<div class="t" style="left:257px;top:433px;font-size:18px;color:#222"><b>Local</b> <span style="font-size:14px;color:#666">(DuckDB + Python)</span></div>
<div class="t" style="left:225px;top:435px;font-size:15px;color:#222">✓</div>
<div class="a" style="left:508px;top:366px;width:17px;height:16px;border-radius:50%;background:#f3c0ee"></div>
<div class="a" style="left:516px;top:366px;width:17px;height:16px;border-radius:50%;background:#cdcaf6"></div>
<div class="a" style="left:516px;top:400px;width:17px;height:16px;border-radius:50%;background:#f3c0ee"></div>
<div class="a" style="left:516px;top:435px;width:17px;height:16px;border-radius:50%;background:#cdcaf6"></div>
<div class="hr" style="left:208px;top:477px;width:350px"></div>
<div class="t b" style="left:223px;top:504px;font-size:17px;color:#222">Tables</div>
<svg class="a" style="left:482px;top:505px" width="16" height="16" viewBox="0 0 16 16"><path d="M8 1v14M1 8h14" stroke="#333" stroke-width="1.6"/></svg>
<svg class="a" style="left:515px;top:504px" width="18" height="18" viewBox="0 0 18 18"><circle cx="9" cy="9" r="8" fill="none" stroke="#8fd3a0" stroke-width="1.5"/><path d="M5 9l3 3 5-5" fill="none" stroke="#8fd3a0" stroke-width="1.5"/></svg>
<svg class="a" style="left:226px;top:550px" width="15" height="15" viewBox="0 0 16 16"><circle cx="6.5" cy="6.5" r="5" fill="none" stroke="#aaa" stroke-width="1.5"/><path d="M10 10l5 5" stroke="#aaa" stroke-width="1.5"/></svg>
<div class="t" style="left:253px;top:547px;font-size:18px;color:#b5b5b5">Find...</div>

<div class="cyl" style="left:228px;top:594px"></div><div class="t" style="left:254px;top:593px;font-size:18px;color:#333">aggregated_bounce_metrics</div><div class="dot" style="left:518px;top:599px"></div>
<div class="cyl" style="left:228px;top:629px"></div><div class="t" style="left:254px;top:628px;font-size:18px;color:#333">daily_trends</div><div class="dot" style="left:518px;top:634px"></div>
<div class="cyl" style="left:228px;top:663px"></div><div class="t" style="left:254px;top:662px;font-size:18px;color:#333">event_summary</div><div class="dot" style="left:518px;top:668px"></div>
<div class="cyl" style="left:228px;top:698px"></div><div class="t" style="left:254px;top:697px;font-size:18px;color:#333">events</div><div class="dot" style="left:518px;top:703px"></div>
<div class="cyl" style="left:228px;top:732px"></div><div class="t" style="left:254px;top:731px;font-size:18px;color:#333">joined</div><div class="dot" style="left:518px;top:737px"></div>
<div class="cyl" style="left:228px;top:767px"></div><div class="t" style="left:254px;top:766px;font-size:18px;color:#333">low_volume_bounce_rate</div><div class="dot" style="left:518px;top:772px"></div>
<div class="cyl" style="left:228px;top:802px"></div><div class="t" style="left:254px;top:801px;font-size:18px;color:#333">sessions</div><div class="dot" style="left:518px;top:807px"></div>
<div class="cyl" style="left:228px;top:836px"></div><div class="t" style="left:254px;top:835px;font-size:18px;color:#333">summary</div><div class="dot" style="left:518px;top:841px"></div>
<div class="cyl" style="left:228px;top:871px"></div><div class="t" style="left:254px;top:870px;font-size:18px;color:#333">traffic_source_bounce</div><div class="dot" style="left:518px;top:876px"></div>

<div class="hr" style="left:208px;top:1643px;width:350px"></div>
<div class="t b" style="left:223px;top:1671px;font-size:17px;color:#222">Cells</div>
<svg class="a" style="left:226px;top:1717px" width="15" height="15" viewBox="0 0 16 16"><circle cx="6.5" cy="6.5" r="5" fill="none" stroke="#aaa" stroke-width="1.5"/><path d="M10 10l5 5" stroke="#aaa" stroke-width="1.5"/></svg>
<div class="t" style="left:253px;top:1714px;font-size:18px;color:#b5b5b5">Find...</div>
<svg class="a" style="left:227px;top:1762px" width="17" height="17" viewBox="0 0 17 17"><rect x="1" y="1" width="15" height="15" rx="3" fill="none" stroke="#c2c2c2" stroke-width="1.4"/><path d="M1 6h15M1 11h15M6 1v15M11 1v15" stroke="#c2c2c2" stroke-width="1.2"/></svg>
<div class="t" style="left:254px;top:1760px;font-size:18px;color:#333">all_landing_pages</div>
<svg class="a" style="left:227px;top:1795px" width="18" height="18" viewBox="0 0 18 18"><g fill="none" stroke="#c2c2c2" stroke-width="1.3"><rect x="1" y="1" width="4" height="16" rx="2"/><rect x="7" y="5" width="4" height="12" rx="2"/><rect x="13" y="9" width="4" height="8" rx="2"/></g></svg>
<div class="t" style="left:254px;top:1794px;font-size:18px;color:#333">bounce_by_channel</div>
<svg class="a" style="left:227px;top:1830px" width="18" height="18" viewBox="0 0 18 18"><g fill="none" stroke="#c2c2c2" stroke-width="1.3"><rect x="1" y="1" width="4" height="16" rx="2"/><rect x="7" y="5" width="4" height="12" rx="2"/><rect x="13" y="9" width="4" height="8" rx="2"/></g></svg>
<div class="t" style="left:254px;top:1829px;font-size:18px;color:#333">bounce_by_city</div>
<svg class="a" style="left:227px;top:1864px" width="18" height="18" viewBox="0 0 18 18"><g fill="none" stroke="#c2c2c2" stroke-width="1.3"><rect x="1" y="1" width="4" height="16" rx="2"/><rect x="7" y="5" width="4" height="12" rx="2"/><rect x="13" y="9" width="4" height="8" rx="2"/></g></svg>
<div class="t" style="left:254px;top:1863px;font-size:18px;color:#333">bounce_by_country</div>
<svg class="a" style="left:227px;top:1899px" width="18" height="18" viewBox="0 0 18 18"><g fill="none" stroke="#c2c2c2" stroke-width="1.3"><rect x="1" y="1" width="4" height="16" rx="2"/><rect x="7" y="5" width="4" height="12" rx="2"/><rect x="13" y="9" width="4" height="8" rx="2"/></g></svg>
<div class="t" style="left:254px;top:1898px;font-size:18px;color:#333">bounce_by_device</div>
<svg class="a" style="left:227px;top:1933px" width="18" height="18" viewBox="0 0 18 18"><g fill="none" stroke="#c2c2c2" stroke-width="1.3"><rect x="1" y="1" width="4" height="16" rx="2"/><rect x="7" y="5" width="4" height="12" rx="2"/><rect x="13" y="9" width="4" height="8" rx="2"/></g></svg>
<div class="t" style="left:254px;top:1932px;font-size:18px;color:#333">bounce_by_region</div>
<svg class="a" style="left:227px;top:1968px" width="18" height="18" viewBox="0 0 18 18"><g fill="none" stroke="#c2c2c2" stroke-width="1.3"><rect x="1" y="1" width="4" height="16" rx="2"/><rect x="7" y="5" width="4" height="12" rx="2"/><rect x="13" y="9" width="4" height="8" rx="2"/></g></svg>
<div class="t" style="left:254px;top:1967px;font-size:18px;color:#333">bounce_by_source</div>
<svg class="a" style="left:226px;top:2004px" width="20" height="16" viewBox="0 0 20 16"><path d="M6 3L1 8l5 5M14 3l5 5-5 5M12 1L8 15" fill="none" stroke="#c2c2c2" stroke-width="1.4"/></svg>
<div class="t" style="left:254px;top:2002px;font-size:18px;color:#333">bounce_correlation</div>
<div class="cyl" style="left:228px;top:2037px"></div>
<div class="t" style="left:254px;top:2036px;font-size:18px;color:#333">bounce_impact_analysis</div>

<!-- bottom toolbar -->
<div class="a" style="left:1563px;top:1986px;width:709px;height:79px;background:#fff;border-radius:14px;box-shadow:0 2px 14px rgba(0,0,0,.1),0 0 0 1px #eee"></div>
<div class="a" style="left:1638px;top:1998px;width:69px;height:57px;background:#7472f1;border-radius:8px"></div>
<div class="a" style="left:1735px;top:2072px;width:190px;height:4px;border-radius:2px;background:#d8d8d8"></div>
<svg class="a" style="left:1585px;top:2010px" width="680" height="36" viewBox="0 0 680 36" fill="none" stroke="#333" stroke-width="1.9" stroke-linejoin="round" stroke-linecap="round">
<path d="M12 6 L14 14 L22 16 L14 18 L12 26 L10 18 L2 16 L10 14 Z"/><path d="M24 22 L25 26 L29 27 L25 28 L24 32 L23 28 L19 27 L23 26Z"/>
<path d="M70 6 L92 17 L82 20 L77 29 Z" stroke="#fff"/><path d="M97 20l4-4 4 4" stroke="#fff"/>
<ellipse cx="157" cy="8" rx="10" ry="4"/><path d="M147 8v18c0 2 4.5 4 10 4s10-2 10-4V8"/><path d="M177 20l4-4 4 4"/>
<path d="M222 4v26h22"/><circle cx="232" cy="12" r="4"/><circle cx="241" cy="8" r="3"/><circle cx="238" cy="22" r="4"/><path d="M252 20l4-4 4 4"/>
<circle cx="307" cy="17" r="12"/><path d="M307 10v8h6"/><path d="M327 20l4-4 4 4"/>
<rect x="371" y="5" width="22" height="24" rx="5"/><path d="M376 14h1M387 14h1M377 21c3 3 7 3 10 0"/>
<path d="M434 6h22M445 6v24" stroke-width="2.2"/>
<rect x="498" y="5" width="22" height="24" rx="4"/><path d="M529 20l4-4 4 4"/>
<rect x="571" y="5" width="22" height="24" rx="4"/><path d="M571 12h22"/>
<path d="M634 6h22a3 3 0 0 1 3 3v13a3 3 0 0 1-3 3h-12l-7 6v-6h-3a3 3 0 0 1-3-3V9a3 3 0 0 1 3-3z"/>
</svg>

<!-- pink cursor + ALICE -->
<svg class="a" style="left:1720px;top:1350px" width="120" height="130" viewBox="1720 1350 120 130"><polygon points="1735,1367 1814,1417 1768,1427 1741,1460" fill="#ee117f" stroke="#ee117f" stroke-width="8" stroke-linejoin="round"/></svg>
<div class="a" style="left:1810px;top:1455px;width:227px;height:109px;background:#ee117f;border-radius:12px;display:flex;align-items:center;justify-content:center"><span class="m" style="font-size:64px;color:#fff;line-height:1">ALICE</span></div>

<!-- purple cursor + JOSH -->
<svg class="a" style="left:2690px;top:1055px" width="110" height="125" viewBox="2690 1055 110 125"><polygon points="2704,1072 2783,1122 2737,1131 2709,1164" fill="#9d8cf7" stroke="#9d8cf7" stroke-width="8" stroke-linejoin="round"/></svg>
<div class="a" style="left:2778px;top:1159px;width:228px;height:108px;background:#9d8cf7;border-radius:12px;display:flex;align-items:center;justify-content:center"><span class="m" style="font-size:64px;color:#fff;line-height:1">JOSH</span></div>

<!-- corner icon -->
<div class="a" style="left:3790px;top:2109px;width:38px;height:38px;border-radius:50%;background:#3b3b3f"></div>
<svg class="a" style="left:3798px;top:2117px" width="22" height="22" viewBox="0 0 22 22" fill="none" stroke="#eee" stroke-width="1.6"><path d="M2 7V2h5M15 2h5v5M20 15v5h-5M7 20H2v-5M6 8h10M6 11h10M6 14h6"/></svg>

<!-- frame edge -->
<div class="a" style="left:0;top:0;width:3840px;height:2160px;border:2px solid #28263c;pointer-events:none"></div>
</body></html>
